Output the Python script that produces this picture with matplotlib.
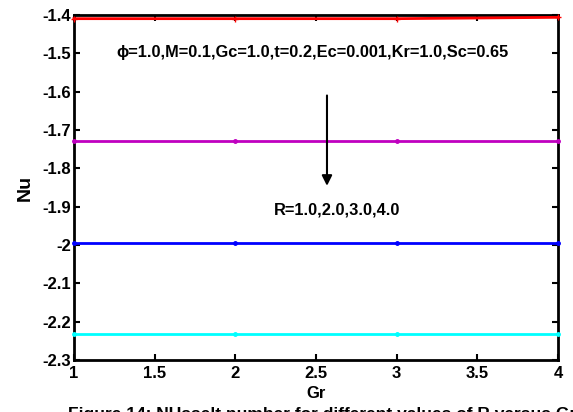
import matplotlib
matplotlib.use("Agg")
import matplotlib.pyplot as plt

plt.rcParams['font.family'] = ['Liberation Sans', 'DejaVu Sans']
plt.rcParams['font.weight'] = 'bold'

gr = [1, 2, 3, 4]
nu_r1 = [-1.410, -1.410, -1.410, -1.4065]
nu_r2 = [-1.729, -1.729, -1.729, -1.729]
nu_r3 = [-1.996, -1.996, -1.996, -1.996]
nu_r4 = [-2.233, -2.233, -2.233, -2.233]

series = [(nu_r1, 'red', '+'), (nu_r2, '#c000c0', '.'), (nu_r3, 'blue', '.'), (nu_r4, 'cyan', '.')]

fig = plt.figure(figsize=(5.73, 4.12), dpi=100)
ax = fig.add_axes([0.129, 0.126, 0.845, 0.838])

for vals, col, mk in series:
    ax.plot(gr, vals, color=col, lw=2, marker=mk, markersize=5, clip_on=False, zorder=3)

ax.set_xlim(1, 4)
ax.set_ylim(-2.3, -1.4)
ax.set_xticks([1, 1.5, 2, 2.5, 3, 3.5, 4])
ax.set_xticklabels(['1', '1.5', '2', '2.5', '3', '3.5', '4'])
ax.set_yticks([-2.3, -2.2, -2.1, -2.0, -1.9, -1.8, -1.7, -1.6, -1.5, -1.4])
ax.set_yticklabels(['-2.3', '-2.2', '-2.1', '-2', '-1.9', '-1.8', '-1.7', '-1.6', '-1.5', '-1.4'])
ax.tick_params(direction='in', top=True, right=True, length=4, width=1.5, labelsize=12, pad=2)
ax.tick_params(axis='x', pad=4)
for s in ax.spines.values():
    s.set_linewidth(2)

ax.set_xlabel('Gr', fontsize=12, fontweight='bold', labelpad=4)
ax.set_ylabel('Nu', fontsize=14, fontweight='bold', labelpad=6)

ax.text(2.48, -1.499, 'ϕ=1.0,M=0.1,Gc=1.0,t=0.2,Ec=0.001,Kr=1.0,Sc=0.65',
        ha='center', va='center', fontsize=11.8, fontweight='bold')
ax.text(2.63, -1.909, 'R=1.0,2.0,3.0,4.0', ha='center', va='center', fontsize=11.8, fontweight='bold')
ax.annotate('', xy=(2.568, -1.853), xytext=(2.568, -1.603),
            arrowprops=dict(arrowstyle='-|>', color='black', lw=1.5, mutation_scale=15))

fig.text(0.562, 0.013, 'Figure 14: NUsselt number for different values of R versus Gr',
         ha='center', va='top', fontsize=12.5, fontweight='bold')

fig.savefig('out.png', dpi=100)
